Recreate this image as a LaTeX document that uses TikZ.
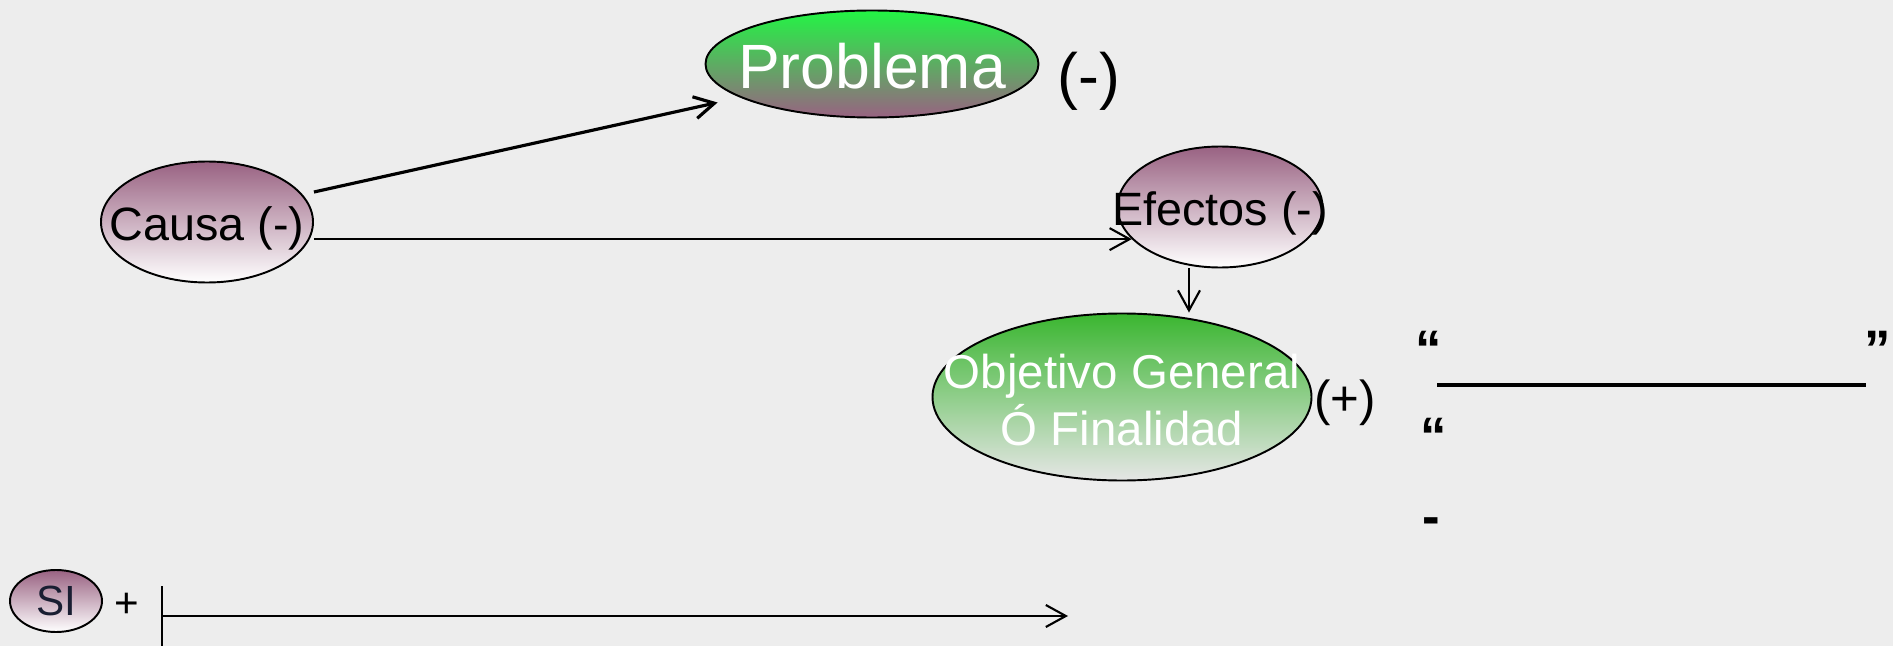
\documentclass[tikz,border=0pt]{standalone}
\usepackage{fontspec}
\setmainfont{Liberation Sans}
\usetikzlibrary{shapes.geometric, arrows.meta, calc}

\definecolor{fondo}{RGB}{237,237,237}
\definecolor{verde}{RGB}{34,245,68}
\definecolor{verdeosc}{RGB}{58,182,48}
\definecolor{malva}{RGB}{153,98,130}
\definecolor{gris}{RGB}{230,230,230}
\definecolor{tinta}{RGB}{25,30,50}

\begin{document}
\begin{tikzpicture}[
		ovalo/.style={ellipse, draw, line width=0.55pt, inner sep=0pt},
		flecha/.style={-{Straight Barb[length=2mm, width=2.2mm]}, line width=0.6pt},
		cita/.style={inner sep=0pt, font=\fontsize{15}{18}\selectfont\bfseries}
	]
			\coordinate (bottomleft) at (0, 0);
			\coordinate (topright) at (18.93, 6.46);
			
			\fill[fondo] (bottomleft) rectangle (topright);
			\useasboundingbox (bottomleft) rectangle (topright);
			
			\node[ovalo, top color=verde, bottom color=malva, minimum width=3.33cm, minimum height=1.07cm,
				label={[text=white, yshift=-0.2mm, font=\fontsize{17.8}{21}\selectfont]center:Problema}] (problema) at (8.72, 5.82) {};
			\node[font=\fontsize{17.8}{21}\selectfont] (problemaSigno) at (10.89, 5.65) {(-)};
			
			\node[ovalo, top color=malva, bottom color=white, minimum width=2.12cm, minimum height=1.21cm,
				label={[yshift=-0.6mm, font=\fontsize{13.3}{16}\selectfont]center:Causa (-)}] (causa) at (2.07, 4.24) {};
			\node[ovalo, top color=malva, bottom color=white, minimum width=2.05cm, minimum height=1.21cm,
				label={[yshift=-0.6mm, font=\fontsize{13.3}{16}\selectfont]center:Efectos (-)}] (efectos) at (12.20, 4.39) {};
			
			\node[ovalo, top color=verdeosc, bottom color=gris, minimum width=3.79cm, minimum height=1.67cm,
				label={[text=white, yshift=-0.3mm, align=center, font=\fontsize{13.5}{16.2}\selectfont]center:Objetivo General\\Ó Finalidad}] (objetivo) at (11.22, 2.49) {};
			\node[font=\fontsize{14}{17}\selectfont] (objetivoSigno) at (13.45, 2.43) {(+)};
			
			\draw[flecha, line width=0.9pt] ([yshift=3mm]causa.east) -- ([xshift=-3.6mm]problema.south west);
			\draw[flecha] (causa.east |- efectos.200) -- (efectos.200);
			\draw[flecha] ([xshift=-3.1mm]efectos.south) -- ([xshift=-3.1mm]efectos.south |- objetivo.north);
			
			\node[ovalo, top color=malva, bottom color=white, minimum width=0.92cm, minimum height=0.62cm,
				label={[text=tinta, font=\fontsize{12}{14}\selectfont]center:SI}] (si) at (0.56, 0.45) {};
			\node[font=\fontsize{12}{14}\selectfont] (mas) at (1.27, 0.41) {+};
			
			\coordinate (marcaArriba) at (1.62, 0.60);
			\coordinate (marcaAbajo) at (1.62, 0);
			\coordinate (metaFin) at (10.68, 0.30);
			\draw[line width=0.6pt] (marcaArriba) -- (marcaAbajo);
			\draw[flecha] (marcaArriba |- metaFin) -- (metaFin);
			
			\coordinate (rayaIni) at (14.37, 2.61);
			\coordinate (rayaFin) at (18.66, 2.61);
			\draw[line width=1.4pt] (rayaIni) -- (rayaFin);
			
			\node[cita, anchor=base west] (comillaA) at (14.15, 2.785) {“};
			\node[cita, anchor=base west] (comillaB) at (18.64, 2.785) {”};
			\node[cita, anchor=base west] (comillaC) at (14.20, 1.915) {“};
			\node[cita, anchor=base west] (guion) at (14.22, 1.12) {-};
			
		\end{tikzpicture}
\end{document}
